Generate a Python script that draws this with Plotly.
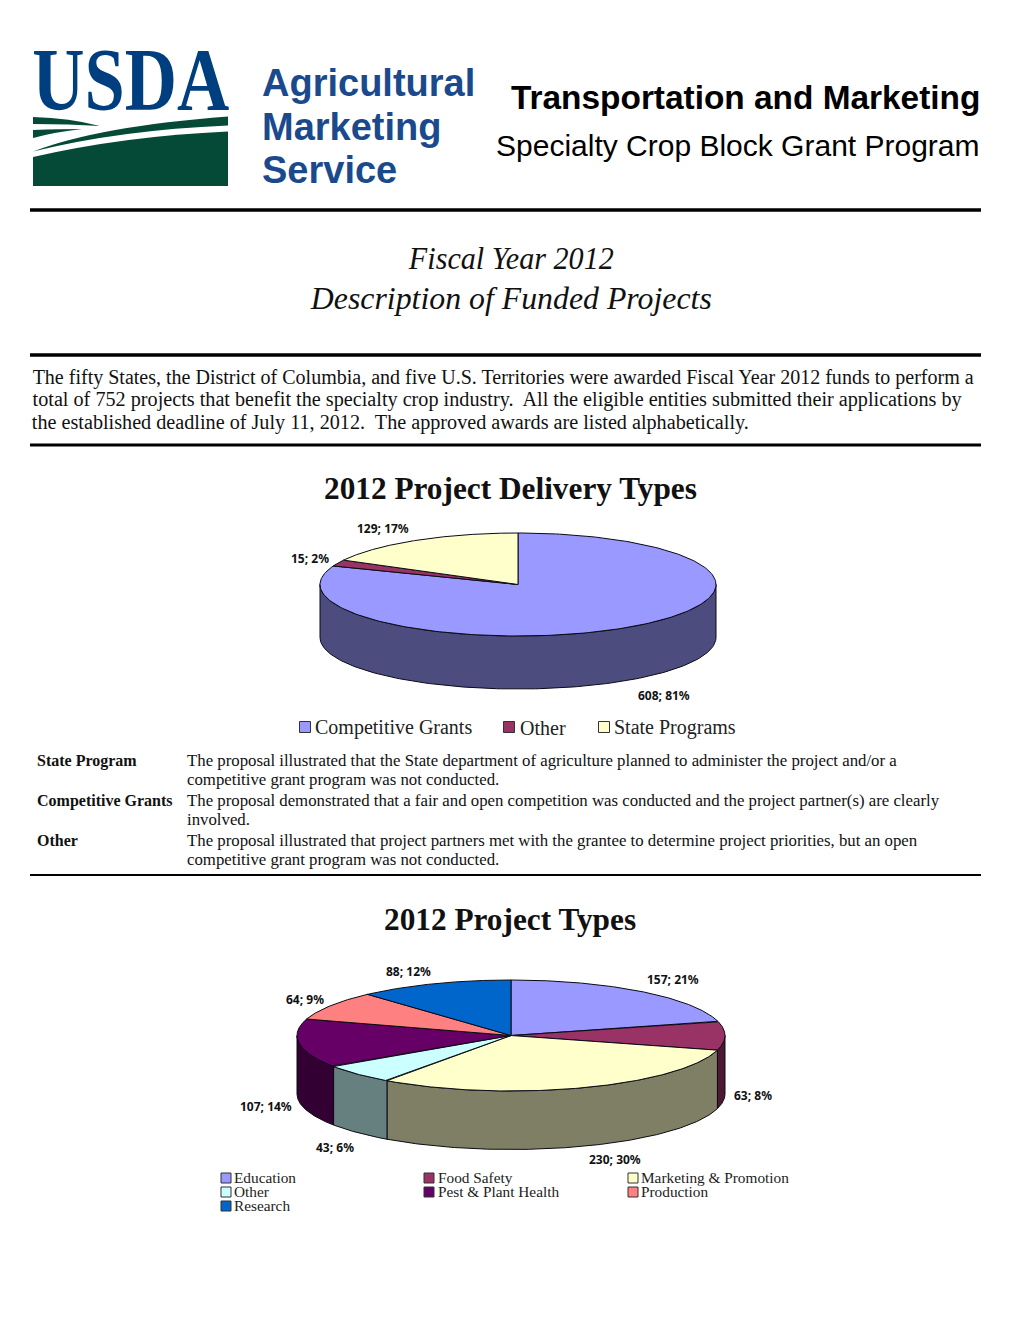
import numpy as np
import plotly.graph_objects as go

# ---- data ----
delivery_types = ["Competitive Grants", "Other", "State Programs"]
delivery_counts = [608, 15, 129]
delivery_pcts = [81, 2, 17]

project_types = ["Education", "Food Safety", "Marketing & Promotion", "Other",
                 "Pest & Plant Health", "Production", "Research"]
project_counts = [157, 63, 230, 43, 107, 64, 88]
project_pcts = [21, 8, 30, 6, 14, 9, 12]

# ---- styles ----
delivery_colors = ["#9999FF", "#993366", "#FFFFCC"]
project_colors = ["#9999FF", "#993366", "#FFFFCC", "#CCFFFF", "#660066", "#FF8080", "#0066CC"]
SERIF = "Liberation Serif"
SANS = "Liberation Sans"
LABEL = "Noto Sans"
TEXT = "#111111"

fig = go.Figure()
notes = []


def note(x, y, text, size, family=SERIF, color=TEXT, anchor="left", bold=False, italic=False):
    notes.append(dict(x=x, y=y, xref="x", yref="y", text=text, showarrow=False,
                      xanchor=anchor, yanchor="middle", borderpad=0, borderwidth=0,
                      font=dict(family=family, size=size, color=color,
                                weight="bold" if bold else "normal",
                                style="italic" if italic else "normal")))


def darken(c):
    r, g, b = int(c[1:3], 16), int(c[3:5], 16), int(c[5:7], 16)
    return f"rgb({r // 2},{g // 2},{b // 2})"


def pie3d(values, colors, names, cx, cy, rx, ry, depth):
    cum = np.cumsum([0] + list(values)) / float(sum(values)) * 2 * np.pi
    pos = lambda a: (cx + rx * np.sin(a), cy - ry * np.cos(a))
    # visible rim first
    for i, c in enumerate(colors):
        a0, a1 = max(cum[i], np.pi / 2), min(cum[i + 1], 3 * np.pi / 2)
        if a1 <= a0:
            continue
        t = np.linspace(a0, a1, 160)
        x, y = pos(t)
        fig.add_trace(go.Scatter(
            x=np.r_[x, x[::-1], x[0]], y=np.r_[y, y[::-1] + depth, y[0]],
            mode="lines", fill="toself", fillcolor=darken(c),
            line=dict(color="#0a0a14", width=1), hoverinfo="skip", name=names[i]))
    # top faces
    for i, c in enumerate(colors):
        t = np.linspace(cum[i], cum[i + 1], 240)
        x, y = pos(t)
        fig.add_trace(go.Scatter(
            x=np.r_[cx, x, cx], y=np.r_[cy, y, cy],
            mode="lines", fill="toself", fillcolor=c,
            line=dict(color="#0a0a14", width=1), hoverinfo="skip", name=names[i]))


def legend(names, colors, xs, ys, text_xs, size, msize, dy):
    fig.add_trace(go.Scatter(
        x=xs, y=ys, mode="markers",
        marker=dict(symbol="square", size=msize, color=colors,
                    line=dict(color="#333333", width=1)),
        hoverinfo="skip", text=names))
    for tx, y, n in zip(text_xs, ys, names):
        note(tx, y + dy, n.replace("&", "&amp;"), size, SERIF, "#222222")


# ---- pies ----
pie3d(delivery_counts, delivery_colors, delivery_types, 518, 584.5, 198, 51.5, 53)
pie3d(project_counts, project_colors, project_types, 511, 1035.5, 214, 55.5, 58.5)

# data labels
for (x, y), v, p in zip([(664, 695), (310, 558.5), (383, 528.5)], delivery_counts, delivery_pcts):
    note(x, y, f"{v}; {p}%", 12, LABEL, bold=True, anchor="center")
for (x, y), v, p in zip([(673, 979.5), (753, 1095), (615, 1159.5), (335, 1147),
                         (266, 1106), (305, 999.5), (408, 971.5)], project_counts, project_pcts):
    note(x, y, f"{v}; {p}%", 12, LABEL, bold=True, anchor="center")

# legends
legend(delivery_types, delivery_colors, [305, 509, 604], [727] * 3, [315, 520, 614], 20, 11, 0.5)
legend(project_types, project_colors,
       [226, 429, 633, 226, 429, 633, 226], [1178, 1178, 1178, 1192, 1192, 1192, 1206],
       [234, 438, 641, 234, 438, 641, 234], 15.3, 10, -0.5)

# ---- header ----
note(130.5, 79, "USDA", 88, SERIF, "#003F7F", anchor="center", bold=True)
for y, t in zip([83, 127, 170], ["Agricultural", "Marketing", "Service"]):
    note(262, y, t, 38, SANS, "#1B4A8C", bold=True)
note(980, 97, "Transportation and Marketing", 33.4, SANS, "#000000", anchor="right", bold=True)
note(979.5, 145, "Specialty Crop Block Grant Program", 30, SANS, "#000000", anchor="right")

note(510.5, 258, "Fiscal Year 2012", 31, SERIF, anchor="center", italic=True)
note(510.5, 298, "Description of Funded Projects", 31, SERIF, anchor="center", italic=True)

for x, y, t in zip([502.5, 496.5, 390.5], [377.5, 399.5, 422.5], [
    "The fifty States, the District of Columbia, and five U.S. Territories were awarded Fiscal Year 2012 funds to perform a",
    "total of 752 projects that benefit the specialty crop industry.  All the eligible entities submitted their applications by",
    "the established deadline of July 11, 2012.  The approved awards are listed alphabetically.",
]):
    note(x, y, t, 20, SERIF, anchor="center")

note(510, 488.5, "2012 Project Delivery Types", 31.3, SERIF, "#111111", anchor="center", bold=True)
note(510, 919.5, "2012 Project Types", 31.3, SERIF, "#111111", anchor="center", bold=True)

for y, t in zip([760.5, 800.5, 840.5], ["State Program", "Competitive Grants", "Other"]):
    note(37, y, t, 16, SERIF, bold=True)
for y, t in zip([760.5, 779.5, 800.5, 819.5, 840.5, 859.5], [
    "The proposal illustrated that the State department of agriculture planned to administer the project and/or a",
    "competitive grant program was not conducted.",
    "The proposal demonstrated that a fair and open competition was conducted and the project partner(s) are clearly",
    "involved.",
    "The proposal illustrated that project partners met with the grantee to determine project priorities, but an open",
    "competitive grant program was not conducted.",
]):
    note(187, y, t, 16.8, SERIF)

# ---- logo and rules ----
GREEN = "#044A37"
shapes = [
    dict(type="path", path="M33,157 Q125,136 228,131.5 L228,186 L33,186 Z", fillcolor=GREEN, line_width=0),
    dict(type="path", path="M33,151.5 Q100,126 228,116.5 L228,125.5 Q120,130 33,151.5 Z", fillcolor=GREEN, line_width=0),
    dict(type="path", path="M33,117 Q70,118 100,126 Q70,124 33,124 Z", fillcolor=GREEN, line_width=0),
    dict(type="path", path="M33,130 Q60,129 82,129 Q55,132 33,138 Z", fillcolor=GREEN, line_width=0),
]
for y, w in [(210, 3.5), (355, 3.5), (445, 3), (875, 2)]:
    shapes.append(dict(type="line", x0=30, x1=981, y0=y, y1=y, line=dict(color="#000000", width=w)))

fig.update_layout(
    width=1020, height=1320, margin=dict(l=0, r=0, t=0, b=0),
    paper_bgcolor="white", plot_bgcolor="white", showlegend=False,
    xaxis=dict(range=[0, 1020], visible=False, fixedrange=True),
    yaxis=dict(range=[1320, 0], visible=False, fixedrange=True),
    annotations=notes, shapes=shapes,
)

post = """
document.body.style.margin='0';
var fit={'USDA':197,'Fiscal Year 2012':205,'Description of Funded Projects':401};
document.querySelectorAll('.annotation-text').forEach(function(t){
  var s=t.textContent, w=fit[s];
  if(s.indexOf('The fifty States')===0) w=941;
  if(s.indexOf('total of 752')===0) w=929;
  if(s.indexOf('the established')===0) w=717;
  if(w){t.setAttribute('textLength',String(w));t.setAttribute('lengthAdjust','spacingAndGlyphs');}
});
"""
fig.write_html("out.html", config={"displayModeBar": False}, post_script=post)
